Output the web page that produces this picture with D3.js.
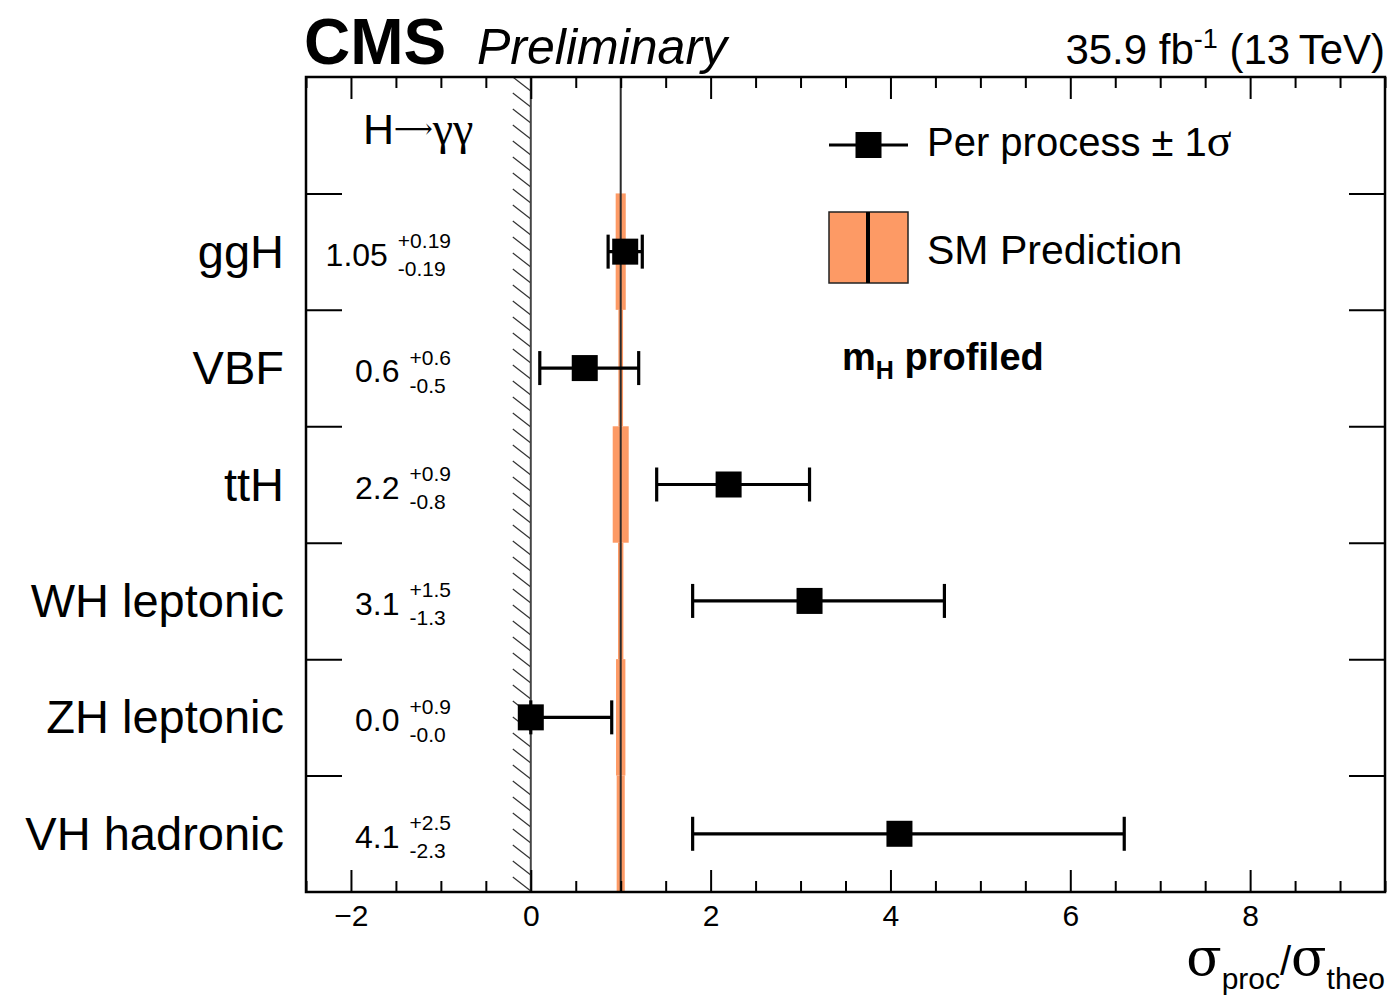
<!DOCTYPE html>
<html>
<head>
<meta charset="utf-8">
<script src="https://cdn.jsdelivr.net/npm/d3@7"></script>
<style>
  body { margin: 0; background: #fff; }
  text { font-family: "Liberation Sans", Arial, Helvetica, sans-serif; fill: #000; }
  .serif { font-family: "Liberation Serif", "Times New Roman", serif; }
  .greek { font-family: "DejaVu Serif", "Liberation Serif", serif; }
</style>
</head>
<body>
<svg id="chart" width="1394" height="996"></svg>
<script>
// Per-process signal strengths, H->gammagamma
const processes = ["ggH", "VBF", "ttH", "WH leptonic", "ZH leptonic", "VH hadronic"];
const bestFit = [1.05, 0.6, 2.2, 3.1, 0.0, 4.1];
const errUp = [0.19, 0.6, 0.9, 1.5, 0.9, 2.5];
const errDown = [0.19, 0.5, 0.8, 1.3, 0.0, 2.3];
const labelDecimals = [2, 1, 1, 1, 1, 1];
// half width of the SM theory band around 1
const smUnc = [0.056, 0.026, 0.089, 0.03, 0.052, 0.045];
const smValue = 1;
const xMajor = [-2, 0, 2, 4, 6, 8];
const xMinor = d3.range(-2.5, 9.51, 0.5).filter(v => !xMajor.includes(v));

const orange = "#fd9a65";
const svg = d3.select("#chart");
const frame = { left: 306, right: 1385, top: 77, bottom: 892 };

const x = d3.scaleLinear().domain([-2.5, 9.5]).range([frame.left, frame.right]);
const y = d3.scaleLinear().domain([0, 7]).range([frame.bottom, frame.top]);
const rowCenter = i => y(processes.length - i - 0.5);
const rowTop = i => y(processes.length - i);
const rowBottom = i => y(processes.length - i - 1);

svg.append("defs").append("clipPath").attr("id", "plotclip")
  .append("rect")
  .attr("x", frame.left).attr("y", frame.top)
  .attr("width", frame.right - frame.left).attr("height", frame.bottom - frame.top);

const plot = svg.append("g").attr("clip-path", "url(#plotclip)");

// hatched physical boundary left of zero
const hatchW = 18;
plot.append("g").selectAll("line")
  .data(d3.range(frame.top - 16, frame.bottom + 16, 16))
  .join("line")
  .attr("x1", x(0) - hatchW).attr("y1", d => d)
  .attr("x2", x(0)).attr("y2", d => d + 14)
  .attr("stroke", "#333").attr("stroke-width", 1.2);

plot.append("line")
  .attr("x1", x(0)).attr("x2", x(0))
  .attr("y1", frame.top).attr("y2", frame.bottom)
  .attr("stroke", "#444").attr("stroke-width", 2);

// SM bands
plot.append("g").selectAll("rect")
  .data(processes)
  .join("rect")
  .attr("x", (d, i) => x(smValue - smUnc[i]))
  .attr("width", (d, i) => x(smValue + smUnc[i]) - x(smValue - smUnc[i]))
  .attr("y", (d, i) => rowTop(i))
  .attr("height", (d, i) => rowBottom(i) - rowTop(i))
  .attr("fill", orange);

plot.append("line")
  .attr("x1", x(smValue)).attr("x2", x(smValue))
  .attr("y1", frame.top).attr("y2", frame.bottom)
  .attr("stroke", "#2a2a2a").attr("stroke-width", 2);

// error bars
const capH = 17;
const bars = plot.append("g").selectAll("g")
  .data(processes)
  .join("g");

bars.append("line")
  .attr("x1", (d, i) => x(bestFit[i] - errDown[i]))
  .attr("x2", (d, i) => x(bestFit[i] + errUp[i]))
  .attr("y1", (d, i) => rowCenter(i)).attr("y2", (d, i) => rowCenter(i))
  .attr("stroke", "#000").attr("stroke-width", 3.2);

[(i) => bestFit[i] - errDown[i], (i) => bestFit[i] + errUp[i]].forEach(edge => {
  bars.append("line")
    .attr("x1", (d, i) => x(edge(i))).attr("x2", (d, i) => x(edge(i)))
    .attr("y1", (d, i) => rowCenter(i) - capH).attr("y2", (d, i) => rowCenter(i) + capH)
    .attr("stroke", "#000").attr("stroke-width", 3.2);
});

const mk = 26;
bars.append("rect")
  .attr("x", (d, i) => x(bestFit[i]) - mk / 2)
  .attr("y", (d, i) => rowCenter(i) - mk / 2)
  .attr("width", mk).attr("height", mk)
  .attr("fill", "#000");

// axes
function styleAxis(g) {
  g.select(".domain").remove();
  g.selectAll(".tick line").attr("stroke", "#000").attr("stroke-width", 2);
  g.selectAll(".tick text").style("font-size", "30px").attr("fill", "#000")
    .style("font-family", "'Liberation Sans', Arial, sans-serif");
}

svg.append("g").attr("transform", `translate(0,${frame.bottom})`)
  .call(d3.axisBottom(x).tickValues(xMajor).tickSizeInner(-22).tickSizeOuter(0).tickPadding(13))
  .call(styleAxis);
svg.append("g").attr("transform", `translate(0,${frame.bottom})`)
  .call(d3.axisBottom(x).tickValues(xMinor).tickSizeInner(-11).tickSizeOuter(0).tickFormat(""))
  .call(styleAxis);
svg.append("g").attr("transform", `translate(0,${frame.top})`)
  .call(d3.axisTop(x).tickValues(xMajor).tickSizeInner(-22).tickSizeOuter(0).tickFormat(""))
  .call(styleAxis);
svg.append("g").attr("transform", `translate(0,${frame.top})`)
  .call(d3.axisTop(x).tickValues(xMinor).tickSizeInner(-11).tickSizeOuter(0).tickFormat(""))
  .call(styleAxis);
svg.append("g").attr("transform", `translate(${frame.left},0)`)
  .call(d3.axisLeft(y).tickValues([1, 2, 3, 4, 5, 6]).tickSizeInner(-36).tickSizeOuter(0).tickFormat(""))
  .call(styleAxis);
svg.append("g").attr("transform", `translate(${frame.right},0)`)
  .call(d3.axisRight(y).tickValues([1, 2, 3, 4, 5, 6]).tickSizeInner(-36).tickSizeOuter(0).tickFormat(""))
  .call(styleAxis);

svg.append("rect")
  .attr("x", frame.left).attr("y", frame.top)
  .attr("width", frame.right - frame.left).attr("height", frame.bottom - frame.top)
  .attr("fill", "none").attr("stroke", "#000").attr("stroke-width", 2.5);

// process names
svg.append("g").selectAll("text")
  .data(processes)
  .join("text")
  .attr("x", 284)
  .attr("y", (d, i) => rowCenter(i) + 16)
  .attr("text-anchor", "end")
  .style("font-size", "47px")
  .text(d => d);

// value labels
const labelRight = 451;
processes.forEach((p, i) => {
  const f = d3.format("." + labelDecimals[i] + "f");
  const cy = rowCenter(i);
  const up = svg.append("text").attr("y", cy - 3.5).style("font-size", "21px").text("+" + f(errUp[i]));
  const dn = svg.append("text").attr("y", cy + 24.5).style("font-size", "21px").text("-" + f(errDown[i]));
  const w = Math.max(up.node().getComputedTextLength(), dn.node().getComputedTextLength());
  const x0 = labelRight - w;
  up.attr("x", x0);
  dn.attr("x", x0);
  svg.append("text").attr("x", x0 - 10).attr("y", cy + 14)
    .attr("text-anchor", "end").style("font-size", "32px").text(f(bestFit[i]));
});

// header
svg.append("text").attr("x", 304).attr("y", 64)
  .style("font-size", "64px").style("font-weight", "bold").text("CMS");
svg.append("text").attr("x", 477).attr("y", 64)
  .style("font-size", "50px").style("font-style", "italic").text("Preliminary");

const lumi = svg.append("text").attr("x", frame.right).attr("y", 64)
  .attr("text-anchor", "end").style("font-size", "42px");
lumi.append("tspan").text("35.9 fb");
lumi.append("tspan").attr("dy", -16).style("font-size", "27px").text("-1");
lumi.append("tspan").attr("dy", 16).text(" (13\u2009TeV)");

// channel label
const chan = svg.append("text").attr("x", 363).attr("y", 144).style("font-size", "43px");
chan.append("tspan").text("H");
chan.append("tspan").attr("class", "greek").style("font-size", "27px").attr("dy", -6).text("\u27F6");
chan.append("tspan").attr("class", "serif").attr("dy", 6).style("font-size", "46px").text("\u03B3\u03B3");

// legend
const legX = 829, legW = 79;
svg.append("line").attr("x1", legX).attr("x2", legX + legW).attr("y1", 145).attr("y2", 145)
  .attr("stroke", "#000").attr("stroke-width", 3);
svg.append("rect").attr("x", legX + legW / 2 - 13).attr("y", 132).attr("width", 26).attr("height", 26)
  .attr("fill", "#000");
const leg1 = svg.append("text").attr("x", 927).attr("y", 156).style("font-size", "40px");
leg1.append("tspan").text("Per process \u00B1 1");
leg1.append("tspan").attr("class", "serif").style("font-size", "46px").text("\u03C3");

svg.append("rect").attr("x", legX).attr("y", 212).attr("width", legW).attr("height", 71)
  .attr("fill", orange).attr("stroke", "#222").attr("stroke-width", 1.5);
svg.append("line").attr("x1", legX + 39).attr("x2", legX + 39).attr("y1", 212).attr("y2", 283)
  .attr("stroke", "#000").attr("stroke-width", 4);
svg.append("text").attr("x", 927).attr("y", 264).style("font-size", "41px").text("SM Prediction");

const prof = svg.append("text").attr("x", 842).attr("y", 370)
  .style("font-size", "38px").style("font-weight", "bold");
prof.append("tspan").text("m");
prof.append("tspan").attr("dy", 9).style("font-size", "25px").text("H");
prof.append("tspan").attr("dy", -9).text(" profiled");

// x axis title
const title = svg.append("text").attr("x", frame.right).attr("y", 975)
  .attr("text-anchor", "end").style("font-size", "30px");
title.append("tspan").attr("class", "greek").style("font-size", "52px").text("\u03C3");
title.append("tspan").attr("dy", 14).text("proc");
title.append("tspan").attr("dy", -14).style("font-size", "40px").text("/");
title.append("tspan").attr("class", "greek").style("font-size", "52px").text("\u03C3");
title.append("tspan").attr("dy", 14).text("theo");
</script>
</body>
</html>
